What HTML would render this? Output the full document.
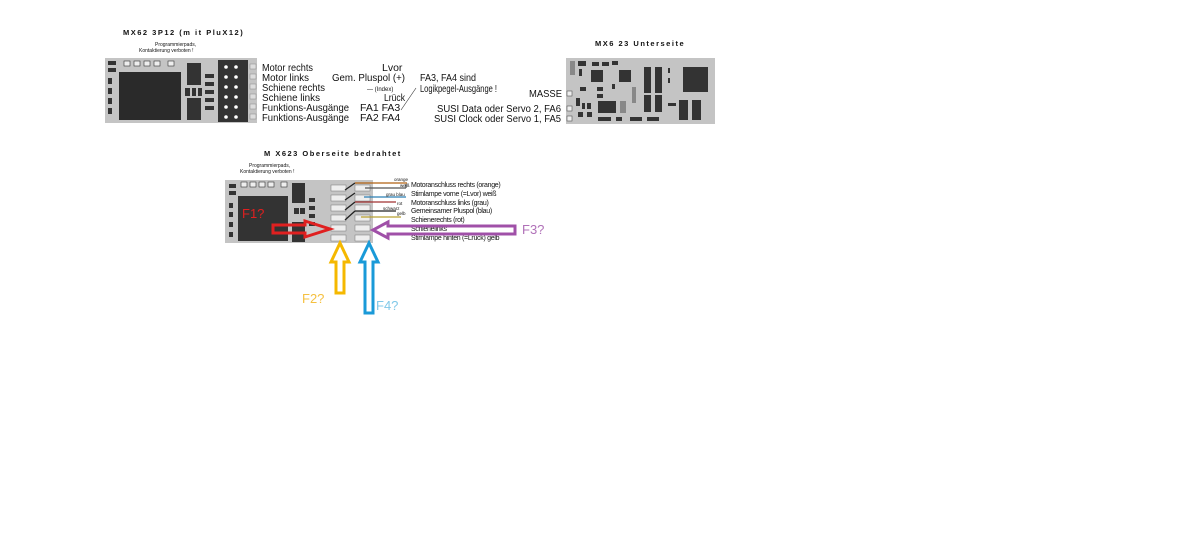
<!DOCTYPE html>
<html><head><meta charset="utf-8"><style>
html,body{margin:0;padding:0;background:#fff;width:1200px;height:541px;overflow:hidden}
svg{display:block}
text{font-family:"Liberation Sans",Arial,sans-serif;fill:#111}
</style></head><body>
<svg width="1200" height="541" viewBox="0 0 1200 541">
<!-- Board 1 -->
<text x="123" y="35" font-size="7.5" font-weight="bold" letter-spacing="1.5">MX62 3P12  (m it PluX12)</text>
<text x="155" y="46" font-size="5">Programmierpads,</text>
<text x="139" y="52" font-size="5">Kontaktierung  verboten !</text>
<rect x="105" y="58" width="152" height="65" fill="#c4c4c4"/>
<rect x="108" y="61" width="8" height="4" fill="#333"/>
<rect x="108" y="68" width="8" height="4" fill="#333"/>
<g fill="#eee" stroke="#333" stroke-width="0.6">
<rect x="124" y="61" width="6" height="5"/><rect x="134" y="61" width="6" height="5"/><rect x="144" y="61" width="6" height="5"/><rect x="154" y="61" width="6" height="5"/><rect x="168" y="61" width="6" height="5"/>
</g>
<rect x="119" y="72" width="62" height="48" fill="#2a2a2a"/>
<g fill="#333"><rect x="108" y="78" width="4" height="6"/><rect x="108" y="88" width="4" height="6"/><rect x="108" y="98" width="4" height="6"/><rect x="108" y="108" width="4" height="6"/>
<rect x="187" y="63" width="14" height="22"/><rect x="187" y="98" width="14" height="22"/>
<rect x="185" y="88" width="5" height="8"/><rect x="192" y="88" width="4" height="8"/><rect x="198" y="88" width="4" height="8"/>
<rect x="205" y="74" width="9" height="4"/><rect x="205" y="82" width="9" height="4"/><rect x="205" y="90" width="9" height="4"/><rect x="205" y="98" width="9" height="4"/><rect x="205" y="106" width="9" height="4"/></g>
<rect x="218" y="60" width="30" height="62" fill="#333"/>
<g fill="#fff"><circle cx="226" cy="67" r="1.8"/><circle cx="236" cy="67" r="1.8"/><circle cx="226" cy="77" r="1.8"/><circle cx="236" cy="77" r="1.8"/><circle cx="226" cy="87" r="1.8"/><circle cx="236" cy="87" r="1.8"/><circle cx="226" cy="97" r="1.8"/><circle cx="236" cy="97" r="1.8"/><circle cx="226" cy="107" r="1.8"/><circle cx="236" cy="107" r="1.8"/><circle cx="226" cy="117" r="1.8"/><circle cx="236" cy="117" r="1.8"/></g>
<g fill="#ddd" stroke="#888" stroke-width="0.5"><rect x="250" y="64" width="6" height="5"/><rect x="250" y="74" width="6" height="5"/><rect x="250" y="84" width="6" height="5"/><rect x="250" y="94" width="6" height="5"/><rect x="250" y="104" width="6" height="5"/><rect x="250" y="114" width="6" height="5"/></g>
<g font-size="10.5">
<text x="262" y="71" textLength="51" lengthAdjust="spacingAndGlyphs">Motor rechts</text><text x="262" y="81" textLength="47" lengthAdjust="spacingAndGlyphs">Motor links</text><text x="262" y="91" textLength="63" lengthAdjust="spacingAndGlyphs">Schiene rechts</text><text x="262" y="101" textLength="58" lengthAdjust="spacingAndGlyphs">Schiene links</text><text x="262" y="111" textLength="87" lengthAdjust="spacingAndGlyphs">Funktions-Ausgänge</text><text x="262" y="121" textLength="87" lengthAdjust="spacingAndGlyphs">Funktions-Ausgänge</text>
<text x="382" y="71">Lvor</text><text x="332" y="81" textLength="73" lengthAdjust="spacingAndGlyphs">Gem. Pluspol (+)</text><text x="384" y="101" textLength="21" lengthAdjust="spacingAndGlyphs">Lrück</text>
<text x="360" y="111">FA1   FA3</text><text x="360" y="121">FA2   FA4</text>
<text x="420" y="81" textLength="56" lengthAdjust="spacingAndGlyphs">FA3, FA4 sind</text><text x="420" y="92" textLength="77" lengthAdjust="spacingAndGlyphs">Logikpegel-Ausgänge !</text>
</g>
<text x="367" y="91" font-size="6">— (Index)</text>
<line x1="401" y1="110" x2="416" y2="88" stroke="#333" stroke-width="0.6"/>
<!-- Board 2 -->
<text x="595" y="46" font-size="7.5" font-weight="bold" letter-spacing="1.5">MX6 23  Unterseite</text>
<g font-size="10"><text x="529" y="97" textLength="33" lengthAdjust="spacingAndGlyphs">MASSE</text><text x="437" y="112" textLength="124" lengthAdjust="spacingAndGlyphs">SUSI Data  oder Servo 2, FA6</text><text x="434" y="122" textLength="127" lengthAdjust="spacingAndGlyphs">SUSI Clock oder Servo 1, FA5</text></g>
<rect x="566" y="58" width="149" height="66" fill="#c4c4c4"/>
<g fill="#333"><rect x="570" y="61" width="5" height="14" fill="#888"/><rect x="578" y="61" width="8" height="5"/><rect x="592" y="62" width="7" height="4"/><rect x="602" y="62" width="7" height="4"/><rect x="612" y="61" width="6" height="4"/>
<rect x="579" y="69" width="3" height="7"/><rect x="591" y="70" width="12" height="12"/><rect x="619" y="70" width="12" height="12"/><rect x="644" y="67" width="7" height="26"/><rect x="655" y="67" width="7" height="26"/><rect x="668" y="68" width="2" height="5"/><rect x="668" y="78" width="2" height="5"/><rect x="683" y="67" width="25" height="25"/>
<rect x="580" y="87" width="6" height="4"/><rect x="597" y="87" width="6" height="4"/><rect x="597" y="94" width="6" height="4"/><rect x="612" y="84" width="3" height="5"/><rect x="632" y="87" width="4" height="16" fill="#888"/><rect x="644" y="95" width="7" height="17"/><rect x="655" y="95" width="7" height="17"/>
<rect x="576" y="98" width="4" height="8"/><rect x="582" y="103" width="3" height="6"/><rect x="587" y="103" width="4" height="6"/><rect x="598" y="101" width="18" height="12"/><rect x="620" y="101" width="6" height="12" fill="#888"/><rect x="668" y="103" width="8" height="3"/><rect x="679" y="100" width="9" height="20"/><rect x="692" y="100" width="9" height="20"/>
<rect x="578" y="112" width="5" height="5"/><rect x="587" y="112" width="5" height="5"/><rect x="598" y="117" width="13" height="4"/><rect x="616" y="117" width="6" height="4"/><rect x="630" y="117" width="12" height="4"/><rect x="647" y="117" width="12" height="4"/></g>
<g fill="#eee" stroke="#555" stroke-width="0.6"><rect x="567" y="91" width="5" height="5"/><rect x="567" y="106" width="5" height="5"/><rect x="567" y="116" width="5" height="5"/></g>
<!-- Board 3 -->
<text x="264" y="156" font-size="7.5" font-weight="bold" letter-spacing="1.5">M X623 Oberseite  bedrahtet</text>
<text x="249" y="167" font-size="5">Programmierpads,</text>
<text x="240" y="173" font-size="5">Kontaktierung  verboten !</text>
<rect x="225" y="180" width="148" height="63" fill="#c4c4c4"/>
<g fill="#333"><rect x="229" y="184" width="7" height="4"/><rect x="229" y="191" width="7" height="4"/><rect x="238" y="196" width="50" height="45"/><rect x="229" y="203" width="4" height="5"/><rect x="229" y="212" width="4" height="5"/><rect x="229" y="222" width="4" height="5"/><rect x="229" y="232" width="4" height="5"/><rect x="292" y="183" width="13" height="20"/><rect x="292" y="222" width="13" height="20"/><rect x="294" y="208" width="5" height="6"/><rect x="300" y="208" width="5" height="6"/><rect x="297" y="198" width="7" height="4"/><rect x="309" y="198" width="6" height="4"/><rect x="309" y="206" width="6" height="4"/><rect x="309" y="214" width="6" height="4"/><rect x="309" y="222" width="6" height="4"/></g>
<g fill="#eee" stroke="#333" stroke-width="0.6"><rect x="241" y="182" width="6" height="5"/><rect x="250" y="182" width="6" height="5"/><rect x="259" y="182" width="6" height="5"/><rect x="268" y="182" width="6" height="5"/><rect x="281" y="182" width="6" height="5"/></g>
<g fill="#eee" stroke="#777" stroke-width="0.5">
<rect x="331" y="185" width="15" height="6"/><rect x="355" y="185" width="15" height="6"/>
<rect x="331" y="195" width="15" height="6"/><rect x="355" y="195" width="15" height="6"/>
<rect x="331" y="205" width="15" height="6"/><rect x="355" y="205" width="15" height="6"/>
<rect x="331" y="215" width="15" height="6"/><rect x="355" y="215" width="15" height="6"/>
<rect x="331" y="225" width="15" height="6"/><rect x="355" y="225" width="15" height="6"/>
<rect x="331" y="235" width="15" height="6"/><rect x="355" y="235" width="15" height="6"/></g>
<g stroke-width="1.3">
<line x1="345" y1="190" x2="355" y2="183" stroke="#222"/><line x1="355" y1="183" x2="407" y2="183" stroke="#b06010"/>
<line x1="365" y1="188" x2="406" y2="188" stroke="#555"/><line x1="406" y1="188" x2="406" y2="184" stroke="#555"/>
<line x1="345" y1="200" x2="355" y2="193" stroke="#222"/><line x1="364" y1="197" x2="406" y2="197" stroke="#2a7fb5"/>
<line x1="345" y1="210" x2="355" y2="202" stroke="#222"/><line x1="355" y1="202" x2="396" y2="202" stroke="#a03030"/>
<line x1="345" y1="220" x2="355" y2="211" stroke="#222"/><line x1="355" y1="211" x2="396" y2="211" stroke="#222"/>
<line x1="361" y1="217" x2="401" y2="217" stroke="#b8a030"/></g>
<g font-size="4.5"><text x="394" y="181">orange</text><text x="400" y="187">weiß</text><text x="386" y="196">grau  blau</text><text x="397" y="205">rot</text><text x="383" y="210">schwarz</text><text x="397" y="215">gelb</text></g>
<g font-size="7" letter-spacing="-0.3"><text x="411" y="187">Motoranschluss rechts   (orange)</text><text x="411" y="196">Stirnlampe vorne (=Lvor) weiß</text><text x="411" y="205">Motoranschluss links     (grau)</text><text x="411" y="213">Gemeinsamer Pluspol  (blau)</text><text x="411" y="222">Schienerechts          (rot)</text><text x="411" y="231">Schienelinks</text><text x="411" y="240">Stirnlampe hinten (=Lrück) gelb</text></g>
<!-- Arrows -->
<g fill="none" stroke-width="3" stroke-linejoin="miter">
<path d="M273,225 L305,225 L305,221 L330,229 L305,237 L305,233 L273,233 Z" stroke="#e02020"/>
<path d="M515,226 L388,226 L388,222 L373,230 L388,238 L388,234 L515,234 Z" stroke="#a050a8"/>
<path d="M336,293 L336,262 L331,262 L340,243 L349,262 L344,262 L344,293 Z" stroke="#f5b800"/>
<path d="M365,313 L365,262 L360,262 L369,243 L378,262 L373,262 L373,313 Z" stroke="#1a9ad8"/>
</g>
<g font-size="13"><text x="242" y="218" style="fill:#e02020">F1?</text><text x="302" y="303" style="fill:#f5c040">F2?</text><text x="522" y="234" style="fill:#b070b8">F3?</text><text x="376" y="310" style="fill:#80c8e8">F4?</text></g>
</svg>
</body></html>
